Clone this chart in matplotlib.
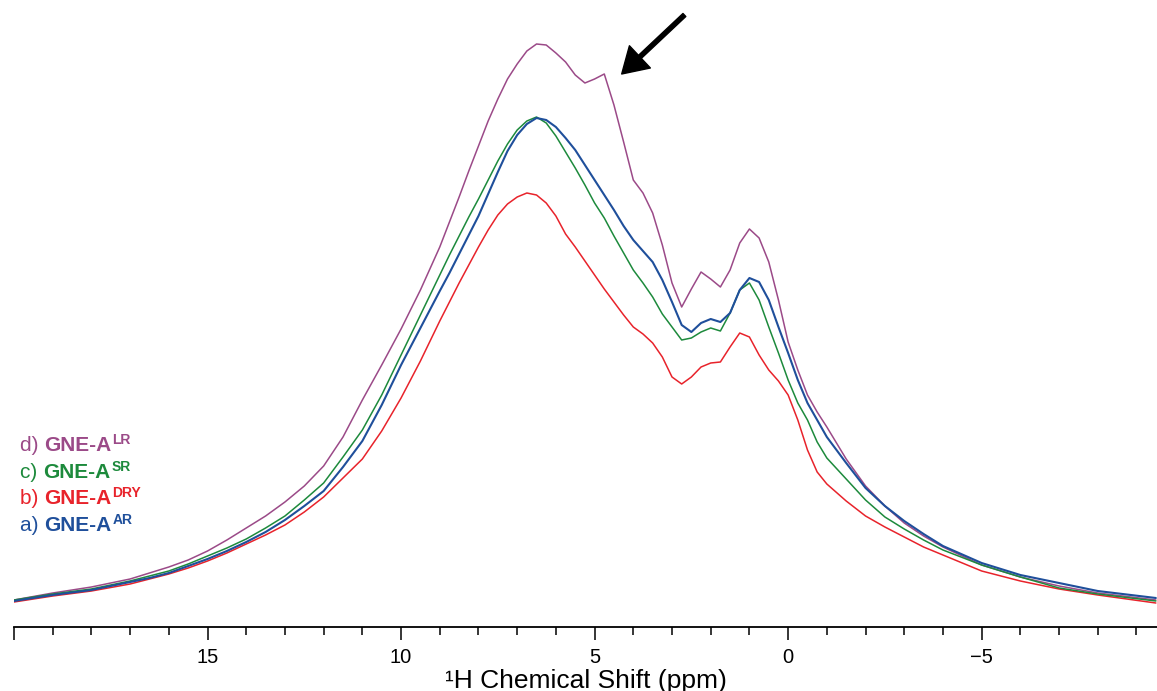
"""
1H NMR spectra of GNE-A samples (AR, DRY, SR, LR)
"""
import matplotlib
matplotlib.use("Agg")
import matplotlib.pyplot as plt
from matplotlib.ticker import FixedLocator, FixedFormatter, MultipleLocator

plt.rcParams['font.family'] = ['Liberation Sans', 'DejaVu Sans']

# chemical shift grid (ppm)
shift = [20, 19, 18, 17, 16.5, 16, 15.5, 15, 14.5, 14, 13.5, 13,
         12.5, 12, 11.5, 11, 10.5, 10, 9.5, 9,
         8.75, 8.5, 8.25, 8, 7.75, 7.5, 7.25, 7,
         6.75, 6.5, 6.25, 6, 5.75, 5.5, 5.25, 5, 4.75, 4.5, 4.25, 4,
         3.75, 3.5, 3.25, 3, 2.75, 2.5, 2.25, 2, 1.75, 1.5, 1.25, 1,
         0.75, 0.5, 0.25, 0, -0.25, -0.5, -0.75, -1,
         -1.5, -2, -2.5, -3, -3.5, -4,
         -5, -6, -7, -8, -9.5]

# intensities (a.u.)
gne_lr = [27, 34, 40, 48, 54, 60, 67, 76, 87, 99, 111, 125,
          141, 161, 190, 227, 262, 298, 337, 380,
          405, 430, 456, 481, 506, 528, 548, 563,
          576, 583, 582, 574, 565, 552, 544, 548, 553, 522, 485, 447,
          434, 414, 382, 344, 320, 338, 355, 348, 340, 357, 384, 398,
          389, 365, 327, 285, 257, 232, 215, 200,
          168, 141, 121, 104, 91, 80,
          62, 50, 41, 34, 27]
gne_sr = [27, 33, 38, 46, 51, 56, 63, 71, 79, 88, 99, 111,
          127, 144, 170, 197, 232, 272, 312, 352,
          372, 391, 410, 428, 447, 466, 483, 497,
          506, 510, 504, 491, 475, 459, 442, 424, 409, 391, 374, 357,
          344, 330, 313, 300, 287, 289, 295, 299, 296, 314, 337, 344,
          327, 300, 274, 247, 224, 207, 185, 169,
          148, 127, 110, 98, 87, 77,
          62, 50, 39, 33, 26]
gne_ar = [26, 32, 37, 45, 49, 54, 61, 68, 76, 85, 95, 107,
          121, 136, 160, 186, 222, 262, 299, 336,
          354, 373, 392, 411, 433, 455, 476, 492,
          503, 509, 507, 500, 489, 477, 462, 447, 432, 417, 401, 387,
          376, 365, 347, 325, 302, 295, 304, 308, 305, 314, 337, 349,
          345, 327, 300, 274, 247, 224, 207, 190,
          164, 139, 121, 106, 93, 81,
          64, 52, 44, 36, 29]
gne_dry = [25, 31, 36, 43, 48, 53, 59, 66, 74, 83, 92, 102,
           115, 130, 149, 168, 196, 229, 266, 306,
           325, 344, 362, 380, 397, 412, 423, 430,
           434, 432, 424, 411, 393, 380, 366, 352, 338, 325, 312, 300,
           293, 284, 270, 250, 243, 250, 260, 264, 265, 280, 294, 290,
           272, 257, 246, 232, 207, 177, 155, 143,
           126, 111, 100, 90, 80, 72,
           56, 46, 38, 32, 24]

COLORS = {
    'LR': '#9b4a88',
    'SR': '#1d8a3c',
    'DRY': '#e8232b',
    'AR': '#1f4f9b',
}

fig = plt.figure(figsize=(11.57, 6.91), dpi=100)
ax = fig.add_axes([14 / 1157, 64 / 691, 1143 / 1157, 627 / 691])

line_kw = dict(solid_joinstyle='round', solid_capstyle='round')
ax.plot(shift, gne_lr, color=COLORS['LR'], lw=1.1, **line_kw)
ax.plot(shift, gne_dry, color=COLORS['DRY'], lw=1.1, **line_kw)
ax.plot(shift, gne_sr, color=COLORS['SR'], lw=1.1, **line_kw)
ax.plot(shift, gne_ar, color=COLORS['AR'], lw=1.5, **line_kw)

ax.set_xlim(20, -9.53)
ax.set_ylim(0, 627)

# 坐标轴样式
for side in ['left', 'right', 'top']:
    ax.spines[side].set_visible(False)
ax.spines['bottom'].set_linewidth(1.3)
ax.set_yticks([])
ax.xaxis.set_major_locator(FixedLocator([20, 15, 10, 5, 0, -5]))
ax.xaxis.set_major_formatter(FixedFormatter(['', '15', '10', '5', '0', '\u22125']))
ax.xaxis.set_minor_locator(MultipleLocator(1))
ax.tick_params(axis='x', which='major', length=9.4, width=1.1, direction='out',
               labelsize=14.5, pad=6)
ax.tick_params(axis='x', which='minor', length=5.8, width=1.1, direction='out')
ax.set_xlabel('\u00b9H Chemical Shift (ppm)', fontsize=19, labelpad=1)

# 箭头
ax.annotate('', xy=(4.3, 553), xytext=(2.68, 612),
            arrowprops=dict(facecolor='black', edgecolor='black', width=3.0,
                            headwidth=22, headlength=18, shrink=0))

# 图例文字
entries = [('d)', 'LR', 451), ('c)', 'SR', 478), ('b)', 'DRY', 504), ('a)', 'AR', 531)]
for prefix, tag, y_px in entries:
    color = COLORS[tag]
    t1 = fig.text(20 / 1157, 1 - y_px / 691, prefix + ' ', fontsize=15,
                  color=color, va='baseline')
    t2 = ax.annotate('GNE-A', xy=(1, 0), xycoords=t1, va='bottom', ha='left',
                     fontsize=15, fontweight='bold', color=color)
    ax.annotate(tag, xy=(1, 0), xycoords=t2, xytext=(0.6, 5.8),
                textcoords='offset points', va='bottom', ha='left',
                fontsize=10, fontweight='bold', color=color)

fig.savefig('out.png', dpi=100)
plt.close(fig)
